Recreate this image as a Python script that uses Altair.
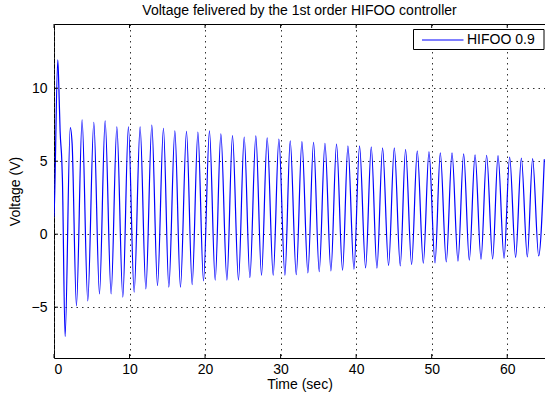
import altair as alt
import pandas as pd

title_text = "Voltage felivered by the 1st order HIFOO controller"
x_label = "Time (sec)"
y_label = "Voltage (V)"
series_name = "HIFOO 0.9"

x_ticks = [0, 10, 20, 30, 40, 50, 60]
y_ticks = [-5, 0, 5, 10]

# initial transient (time, voltage)
start_t = [0.0, 0.07, 0.5, 0.63, 0.81, 1.03, 1.11, 1.47, 2.15, 2.4]
start_v = [1.2, 2.3, 11.94, 10.3, 7.03, 5.09, 3.83, -7.01, 7.3, 6.2]

# oscillation maxima
peak_t = [3.72, 5.27, 6.77, 8.32, 9.85, 11.40, 12.95, 14.49, 16.00, 17.54,
          19.05, 20.58, 22.09, 23.63, 25.18, 26.72, 28.22, 29.77, 31.27,
          32.82, 34.36, 35.87, 37.40, 38.91, 40.45, 42.00, 43.50, 45.05,
          46.54, 48.09, 49.64, 51.14, 52.69, 54.23, 55.74, 57.27, 58.78,
          60.32, 61.87, 63.36, 64.91]
peak_v = [7.83, 7.67, 7.76, 7.35, 7.35, 7.35, 7.47, 7.26, 7.08, 7.05,
          6.99, 7.08, 6.87, 6.75, 6.66, 6.73, 6.60, 6.51, 6.39,
          6.34, 6.30, 6.23, 6.18, 6.05, 6.05, 5.98, 5.91, 5.91,
          5.82, 5.71, 5.66, 5.57, 5.57, 5.50, 5.43, 5.41, 5.38,
          5.29, 5.22, 5.18, 5.14]

# oscillation minima
trough_t = [2.97, 4.47, 6.02, 7.56, 9.11, 10.61, 12.16, 13.70, 15.20, 16.74,
            18.29, 19.79, 21.34, 22.89, 24.42, 25.93, 27.47, 29.02, 30.57,
            32.07, 33.61, 35.11, 36.66, 38.20, 39.71, 41.25, 42.75, 44.29,
            45.84, 47.34, 48.89, 50.44, 51.93, 53.48, 54.98, 56.53, 58.07,
            59.58, 61.11, 62.66, 64.16]
trough_v = [-4.91, -4.57, -4.09, -4.09, -4.32, -3.97, -3.75, -3.52, -3.63, -3.63,
            -3.45, -3.20, -3.15, -3.15, -3.15, -2.97, -2.81, -2.81, -2.81,
            -2.77, -2.65, -2.56, -2.51, -2.47, -2.40, -2.31, -2.33, -2.15,
            -2.17, -2.08, -1.99, -1.97, -1.90, -1.85, -1.78, -1.71, -1.69,
            -1.64, -1.58, -1.55, -1.49]

df = pd.DataFrame({
    "t": start_t + peak_t + trough_t,
    "v": start_v + peak_v + trough_v,
}).sort_values("t").reset_index(drop=True)
df["s"] = series_name

W, H = 491, 334
FONT = "Liberation Sans"
FS = 14
BLUE = "#0000ff"
xscale = alt.Scale(domain=[0, 65], nice=False, zero=False)
yscale = alt.Scale(domain=[-8.48, 14.4], nice=False, zero=False)

xaxis = alt.Axis(values=x_ticks, grid=True, ticks=False, domain=False,
                 labelPadding=4, titlePadding=1, format="d")
yaxis = alt.Axis(values=y_ticks, grid=True, ticks=False, domain=False,
                 labelPadding=7, titlePadding=9, format="d")

line = alt.Chart(df).mark_line(
    stroke=BLUE, color=BLUE, strokeWidth=1.2, interpolate="monotone", clip=True
).encode(
    x=alt.X("t:Q", scale=xscale, title=x_label, axis=xaxis),
    y=alt.Y("v:Q", scale=yscale, title=y_label, axis=yaxis),
)

xt = pd.DataFrame({"t": x_ticks})
yt = pd.DataFrame({"v": y_ticks})

tick_bottom = alt.Chart(xt).mark_rule(stroke="black", strokeWidth=1).encode(
    x=alt.X("t:Q", scale=xscale, title=x_label, axis=xaxis),
    y=alt.value(H), y2=alt.value(H - 4))
tick_top = alt.Chart(xt).mark_rule(stroke="black", strokeWidth=1).encode(
    x=alt.X("t:Q", scale=xscale, title=x_label, axis=xaxis),
    y=alt.value(0), y2=alt.value(4))
tick_left = alt.Chart(yt).mark_rule(stroke="black", strokeWidth=1).encode(
    y=alt.Y("v:Q", scale=yscale, title=y_label, axis=yaxis),
    x=alt.value(0), x2=alt.value(4))

leg_df = pd.DataFrame({"s": [series_name]})
leg_box = alt.Chart(leg_df).mark_rect(fill="white", stroke="black", strokeWidth=1).encode(
    x=alt.value(359.5), x2=alt.value(490), y=alt.value(5.5), y2=alt.value(25.5))
leg_line = alt.Chart(leg_df).mark_rule(strokeWidth=1).encode(
    x=alt.value(368), x2=alt.value(409.5), y=alt.value(16),
    color=alt.value(BLUE))
leg_text = alt.Chart(leg_df).mark_text(
    align="left", baseline="middle", font=FONT, fontSize=FS, color="black"
).encode(x=alt.value(413), y=alt.value(16), text="s:N")

chart = alt.layer(
    line, tick_bottom, tick_top, tick_left, leg_box, leg_line, leg_text
).properties(
    width=W, height=H,
    background="white",
    title=alt.TitleParams(title_text, font=FONT, fontSize=FS, fontWeight="normal",
                          color="black", anchor="middle", offset=6),
    autosize=alt.AutoSizeParams(type="none"),
    padding={"left": 54, "top": 24, "right": 0, "bottom": 36},
).configure_view(
    stroke="black", strokeWidth=1
).configure_axis(
    labelFont=FONT, labelFontSize=FS, labelColor="black",
    titleFont=FONT, titleFontSize=FS, titleFontWeight="normal", titleColor="black",
    gridColor="#333333", gridDash=[1.5, 4], gridWidth=1, gridOpacity=1,
)

chart.save("out.html", embed_options={"renderer": "svg", "actions": False})
